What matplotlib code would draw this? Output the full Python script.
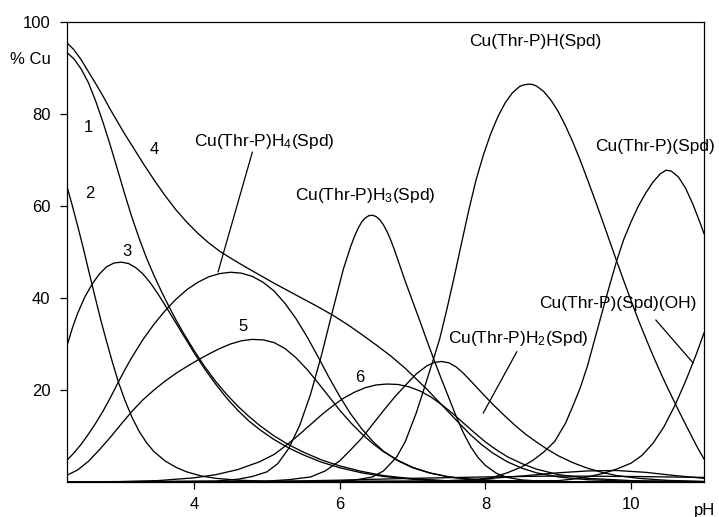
import matplotlib
matplotlib.use("Agg")
import matplotlib.pyplot as plt

plt.rcParams["font.family"] = ["Liberation Sans", "DejaVu Sans"]
plt.rcParams["mathtext.default"] = "regular"

# species distribution curves (pH, % Cu)
ph_1 = [2.26, 2.35, 2.45, 2.55, 2.65, 2.75, 2.85, 2.95, 3.05, 3.15, 3.25, 3.35, 3.45, 3.55, 3.65,
        3.75, 3.85, 4.0, 4.15, 4.3, 4.45, 4.6, 4.75, 4.9, 5.1, 5.3, 5.5, 5.75, 6.0, 6.3, 6.6, 7.0,
        7.5, 8.0, 9.0, 11.0]
pct_1 = [93.3, 92.0, 89.8, 86.8, 82.8, 78.2, 73.2, 67.9, 62.5, 57.4, 52.8, 48.6, 44.9, 41.5, 38.3,
         35.3, 32.5, 28.6, 25.0, 21.8, 19.0, 16.5, 14.3, 12.3, 10.0, 8.1, 6.5, 4.8, 3.5, 2.3, 1.4, 0.7,
         0.25, 0.1, 0.02, 0.0]

ph_2 = [2.26, 2.33, 2.4, 2.48, 2.56, 2.64, 2.72, 2.8, 2.88, 2.96, 3.05, 3.15, 3.25, 3.35, 3.45,
        3.6, 3.75, 3.9, 4.1, 4.3, 4.6, 5.0, 6.0, 11.0]
pct_2 = [64.0, 60.0, 55.8, 50.8, 45.5, 40.3, 35.2, 30.5, 26.0, 21.8, 17.8, 14.0, 10.9, 8.5, 6.6,
         4.6, 3.2, 2.2, 1.3, 0.8, 0.4, 0.15, 0.02, 0.0]

ph_3 = [2.26, 2.33, 2.4, 2.5, 2.6, 2.7, 2.8, 2.9, 3.0, 3.1, 3.2, 3.3, 3.4, 3.5, 3.6, 3.7, 3.8,
        3.9, 4.0, 4.15, 4.3, 4.45, 4.6, 4.75, 4.9, 5.1, 5.3, 5.5, 5.75, 6.0, 6.3, 6.6, 7.0, 7.5,
        8.0, 9.0, 11.0]
pct_3 = [29.8, 33.5, 36.6, 40.2, 43.0, 45.2, 46.8, 47.6, 47.8, 47.5, 46.6, 45.2, 43.3, 41.0, 38.5,
         35.9, 33.3, 30.7, 28.1, 24.5, 21.2, 18.2, 15.6, 13.3, 11.4, 9.2, 7.4, 5.9, 4.3, 3.1, 2.0,
         1.2, 0.6, 0.2, 0.08, 0.02, 0.0]

ph_4 = [2.26, 2.35, 2.45, 2.55, 2.65, 2.75, 2.85, 2.95, 3.05, 3.15, 3.3, 3.45, 3.6, 3.75, 3.9,
        4.05, 4.2, 4.35, 4.5, 4.7, 4.9, 5.1, 5.3, 5.5, 5.7, 5.9, 6.1, 6.3, 6.5, 6.7, 6.9, 7.05,
        7.2, 7.35, 7.5, 7.65, 7.8, 7.95, 8.1, 8.3, 8.5, 8.7, 9.0, 9.4, 10.0, 11.0]
pct_4 = [95.4, 94.0, 91.8, 89.2, 86.6, 83.9, 81.0, 78.3, 75.6, 73.1, 69.3, 65.7, 62.3, 59.2, 56.5,
         54.1, 52.0, 50.2, 48.7, 46.8, 45.0, 43.2, 41.5, 39.8, 38.1, 36.3, 34.3, 32.1, 29.8, 27.4,
         24.7, 22.4, 20.1, 17.6, 15.1, 12.6, 10.2, 8.1, 6.3, 4.4, 3.0, 2.0, 1.1, 0.5, 0.15, 0.03]

ph_5 = [2.26, 2.4, 2.55, 2.7, 2.85, 3.0, 3.15, 3.3, 3.45, 3.6, 3.75, 3.9, 4.05, 4.2, 4.35, 4.5,
        4.65, 4.8, 4.95, 5.1, 5.25, 5.4, 5.55, 5.7, 5.85, 6.0, 6.15, 6.3, 6.45, 6.6, 6.8, 7.0,
        7.23, 7.5, 7.8, 8.2, 9.0, 11.0]
pct_5 = [1.5, 2.6, 4.5, 7.0, 9.7, 12.6, 15.4, 17.9, 20.0, 21.9, 23.6, 25.1, 26.5, 27.8, 29.0, 30.0,
         30.7, 31.0, 30.9, 30.3, 29.0, 27.0, 24.5, 21.6, 18.6, 15.6, 12.9, 10.5, 8.4, 6.6, 4.7, 3.2,
         2.0, 1.1, 0.6, 0.25, 0.05, 0.0]

ph_6 = [2.26, 3.0, 3.5, 4.0, 4.3, 4.6, 4.9, 5.1, 5.3, 5.45, 5.6, 5.75, 5.9, 6.05, 6.2, 6.35, 6.5,
        6.65, 6.8, 6.95, 7.1, 7.25, 7.4, 7.55, 7.7, 7.85, 8.0, 8.15, 8.3, 8.5, 8.7, 9.0, 9.4, 10.0,
        11.0]
pct_6 = [0.0, 0.1, 0.3, 0.9, 1.6, 2.7, 4.4, 6.0, 8.4, 10.4, 12.5, 14.6, 16.5, 18.2, 19.5, 20.5,
         21.1, 21.3, 21.2, 20.7, 19.8, 18.5, 16.8, 14.9, 12.8, 10.7, 8.7, 7.0, 5.5, 4.0, 2.8, 1.6,
         0.8, 0.3, 0.08]

ph_h4 = [2.26, 2.35, 2.45, 2.55, 2.65, 2.75, 2.85, 2.95, 3.05, 3.15, 3.3, 3.45, 3.6, 3.75, 3.9,
         4.05, 4.2, 4.35, 4.5, 4.65, 4.8, 4.95, 5.1, 5.25, 5.4, 5.55, 5.7, 5.85, 6.0, 6.15, 6.3,
         6.45, 6.6, 6.8, 7.0, 7.25, 7.5, 7.8, 8.2, 9.0, 11.0]
pct_h4 = [4.8, 6.3, 8.2, 10.4, 12.8, 15.4, 18.3, 21.4, 24.4, 27.2, 31.0, 34.3, 37.2, 39.7, 41.8,
          43.4, 44.6, 45.3, 45.6, 45.4, 44.7, 43.4, 41.5, 38.8, 35.5, 31.6, 27.3, 22.8, 18.6, 14.8,
          11.6, 8.9, 6.7, 4.6, 3.1, 1.9, 1.1, 0.6, 0.25, 0.05, 0.0]

ph_h3 = [2.26, 4.3, 4.6, 4.8, 5.0, 5.15, 5.3, 5.45, 5.6, 5.75, 5.9, 6.05, 6.15, 6.2, 6.25, 6.3,
         6.35, 6.4, 6.45, 6.5, 6.55, 6.6, 6.65, 6.7, 6.75, 6.8, 6.85, 6.9, 7.0, 7.1, 7.2, 7.3, 7.4,
         7.5, 7.6, 7.7, 7.8, 7.9, 8.0, 8.15, 8.3, 8.5, 8.8, 9.5, 11.0]
pct_h3 = [0.0, 0.2, 0.6, 1.2, 2.2, 4.0, 7.3, 12.3, 19.1, 27.6, 37.1, 46.3, 51.2, 53.3, 55.1, 56.5,
          57.4, 57.9, 58.0, 57.7, 57.0, 55.9, 54.4, 52.6, 50.5, 48.2, 45.9, 43.6, 39.3, 35.0, 30.6,
          26.3, 22.2, 18.2, 14.2, 10.6, 7.6, 5.3, 3.6, 1.9, 1.0, 0.45, 0.15, 0.02, 0.0]

ph_h2 = [2.26, 5.0, 5.3, 5.6, 5.8, 6.0, 6.15, 6.3, 6.45, 6.6, 6.75, 6.9, 7.05, 7.2, 7.3, 7.4, 7.5,
         7.6, 7.7, 7.82, 7.95, 8.1, 8.25, 8.4, 8.55, 8.7, 8.85, 9.0, 9.2, 9.4, 9.6, 9.8, 10.1, 10.5,
         11.0]
pct_h2 = [0.0, 0.2, 0.5, 1.1, 2.4, 4.6, 7.0, 9.5, 12.5, 15.5, 18.4, 21.0, 23.5, 25.3, 26.0, 26.2,
          25.9, 25.0, 23.6, 21.6, 19.4, 16.9, 14.6, 12.4, 10.4, 8.7, 7.1, 5.7, 4.2, 3.0, 2.1, 1.4,
          0.8, 0.35, 0.12]

ph_h1 = [2.26, 5.8, 6.2, 6.45, 6.6, 6.78, 6.9, 7.05, 7.15, 7.27, 7.37, 7.47, 7.57, 7.67, 7.77,
         7.87, 7.97, 8.07, 8.17, 8.27, 8.37, 8.47, 8.53, 8.6, 8.65, 8.7, 8.8, 8.9, 9.0, 9.1, 9.2,
         9.3, 9.4, 9.5, 9.6, 9.7, 9.8, 9.9, 10.0, 10.1, 10.2, 10.3, 10.4, 10.5, 10.6, 10.7, 10.8,
         10.9, 11.0]
pct_h1 = [0.0, 0.1, 0.4, 1.1, 2.4, 5.4, 8.8, 15.0, 19.9, 25.9, 31.0, 37.5, 44.5, 51.8, 59.0,
          65.6, 71.0, 75.6, 79.4, 82.4, 84.6, 86.0, 86.35, 86.5, 86.4, 86.1, 84.9, 83.0, 80.5,
          77.4, 73.9, 70.0, 65.8, 61.5, 57.1, 52.6, 48.1, 43.7, 39.4, 35.2, 31.3, 27.5, 23.9,
          20.5, 17.2, 14.0, 10.9, 7.8, 5.0]

ph_spd = [2.26, 7.5, 7.8, 8.1, 8.3, 8.5, 8.65, 8.8, 8.95, 9.1, 9.2, 9.3, 9.4, 9.5, 9.6, 9.7, 9.8,
          9.9, 10.0, 10.1, 10.2, 10.3, 10.4, 10.48, 10.55, 10.65, 10.75, 10.85, 10.95, 11.0]
pct_spd = [0.0, 0.1, 0.3, 1.0, 2.0, 3.3, 4.7, 6.5, 8.8, 12.8, 16.5, 20.4, 25.2, 31.0, 36.8, 42.5,
           48.0, 52.8, 56.6, 60.0, 62.8, 65.2, 67.0, 67.8, 67.6, 66.3, 63.8, 60.3, 56.2, 54.0]

ph_oh = [2.26, 9.0, 9.3, 9.6, 9.8, 10.0, 10.15, 10.3, 10.45, 10.6, 10.75, 10.9, 11.0]
pct_oh = [0.0, 0.3, 0.8, 1.8, 2.8, 4.1, 5.8, 8.4, 12.0, 16.6, 22.0, 28.0, 32.4]

# minor species hugging the baseline
ph_minor_a = [2.26, 7.0, 7.5, 8.0, 8.5, 9.0, 9.4, 9.8, 10.2, 10.6, 11.0]
pct_minor_a = [0.0, 0.1, 0.3, 0.7, 1.3, 2.0, 2.4, 2.5, 2.1, 1.4, 0.8]
ph_minor_b = [2.26, 5.0, 6.0, 7.0, 8.0, 9.0, 10.0, 11.0]
pct_minor_b = [0.0, 0.1, 0.4, 0.8, 1.1, 1.3, 1.2, 1.0]

curves = [
    (ph_1, pct_1), (ph_2, pct_2), (ph_3, pct_3), (ph_4, pct_4),
    (ph_5, pct_5), (ph_6, pct_6), (ph_h4, pct_h4), (ph_h3, pct_h3),
    (ph_h2, pct_h2), (ph_h1, pct_h1), (ph_spd, pct_spd), (ph_oh, pct_oh),
    (ph_minor_a, pct_minor_a), (ph_minor_b, pct_minor_b),
]

fig = plt.figure(figsize=(7.19, 5.17), dpi=100)
ax = fig.add_axes([0.0932, 0.0677, 0.8859, 0.8897])

for x, y in curves:
    ax.plot(x, y, color="black", lw=0.95, solid_joinstyle="round")

ax.set_xlim(2.256, 11.0)
ax.set_ylim(0, 100)
ax.set_xticks([4, 6, 8, 10])
ax.set_yticks([20, 40, 60, 80, 100])
ax.tick_params(direction="out", length=5, width=0.9, labelsize=12, color="black")
ax.tick_params(axis="y", pad=7)
ax.tick_params(axis="x", pad=6)
for s in ax.spines.values():
    s.set_linewidth(0.9)

# curve numbers
ax.text(2.545, 77.0, "1", fontsize=12, ha="center", va="center")
ax.text(2.572, 62.8, "2", fontsize=12, ha="center", va="center")
ax.text(3.08, 50.2, "3", fontsize=12, ha="center", va="center")
ax.text(3.46, 72.2, "4", fontsize=12, ha="center", va="center")
ax.text(4.67, 33.7, "5", fontsize=12, ha="center", va="center")
ax.text(6.28, 22.8, "6", fontsize=12, ha="center", va="center")

# species labels
lab_kw = dict(fontsize=12.5, ha="center", va="center")
ax.text(4.96, 74.1, "Cu(Thr-P)H$_4$(Spd)", **lab_kw)
ax.plot([4.80, 4.33], [71.7, 45.7], color="black", lw=0.9)
ax.text(6.35, 62.2, "Cu(Thr-P)H$_3$(Spd)", **lab_kw)
ax.text(8.68, 95.7, "Cu(Thr-P)H(Spd)", **lab_kw)
ax.text(9.51, 73.0, "Cu(Thr-P)(Spd)", fontsize=12.5, ha="left", va="center", clip_on=False)
ax.text(8.45, 31.3, "Cu(Thr-P)H$_2$(Spd)", **lab_kw)
ax.plot([8.43, 7.97], [28.3, 15.0], color="black", lw=0.9)
ax.text(9.82, 38.7, "Cu(Thr-P)(Spd)(OH)", **lab_kw)
ax.plot([10.34, 10.85], [35.2, 25.9], color="black", lw=0.9)

fig.text(30 / 719, 1 - 59 / 517, "% Cu", fontsize=12, ha="center", va="center")
fig.text(705 / 719, 1 - 510 / 517, "pH", fontsize=12, ha="center", va="center")

fig.savefig("out.png", dpi=100)
